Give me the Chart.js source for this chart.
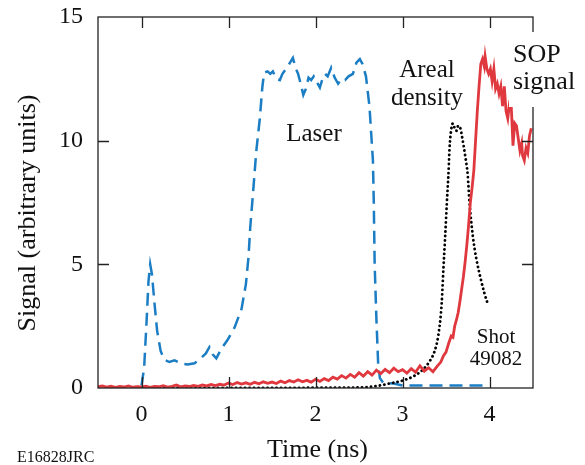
<!DOCTYPE html>
<html>
<head>
<meta charset="utf-8">
<script src="https://cdn.jsdelivr.net/npm/chart.js@4.4.1/dist/chart.umd.min.js"></script>
<style>
  html, body { margin: 0; padding: 0; background: #fff; }
</style>
</head>
<body>
<canvas id="chart" width="585" height="465"></canvas>
<script>
// ---------------------------------------------
// Data (time in ns, signal in arbitrary units)
// ---------------------------------------------
const laserT = [0.00, 0.03, 0.06, 0.08, 0.10, 0.12, 0.15, 0.18, 0.22, 0.26, 0.32, 0.38, 0.45, 0.53, 0.61,
  0.68, 0.74, 0.78, 0.82, 0.86, 0.92, 0.99, 1.07, 1.15, 1.20, 1.23, 1.25, 1.28, 1.32, 1.36, 1.39, 1.41,
  1.45, 1.48, 1.51, 1.55, 1.59, 1.62, 1.68, 1.74, 1.77, 1.80, 1.83, 1.86, 1.89, 1.92, 1.95, 1.98, 2.01,
  2.05, 2.08, 2.11, 2.14, 2.18, 2.22, 2.26, 2.30, 2.34, 2.38, 2.43, 2.47, 2.51, 2.54, 2.58, 2.62, 2.64,
  2.66, 2.67, 2.68, 2.70, 2.72, 2.74, 2.78, 2.90, 3.00, 3.50, 4.00];
const laserS = [0.1, 0.8, 2.8, 4.3, 5.0, 4.6, 3.4, 2.3, 1.5, 1.15, 1.05, 1.12, 1.0, 0.95, 1.0,
  1.2, 1.4, 1.65, 1.35, 1.2, 1.6, 1.95, 2.45, 3.2, 4.2, 5.3, 6.5, 7.8, 9.6, 10.9, 12.2, 12.75,
  12.8, 12.7, 12.8, 12.5, 12.45, 12.7, 13.0, 13.35, 12.95, 12.7, 12.3, 11.85, 12.1, 12.55, 12.45, 12.6, 12.4,
  12.15, 12.5, 12.7, 12.6, 12.95, 12.55, 12.3, 12.5, 12.45, 12.6, 12.7, 13.15, 13.3, 13.1, 12.6, 11.4, 10.3,
  9.2, 7.5, 5.0, 2.8, 1.0, 0.4, 0.2, 0.18, 0.1, 0.1, 0.1];

const arealT = [0.00, 2.50, 2.70, 2.85, 3.00, 3.12, 3.23, 3.31, 3.37, 3.41, 3.45, 3.47, 3.49, 3.51, 3.53,
  3.54, 3.56, 3.58, 3.60, 3.62, 3.64, 3.66, 3.69, 3.72, 3.75, 3.77, 3.81, 3.85, 3.90, 3.94, 3.98];
const arealS = [0.0, 0.02, 0.08, 0.18, 0.3, 0.46, 0.73, 1.07, 1.5, 2.1, 3.4, 4.8, 6.1, 7.5, 8.8,
  9.65, 10.45, 10.7, 10.5, 10.4, 10.6, 10.55, 10.05, 9.4, 8.6, 7.5, 6.1, 5.2, 4.4, 3.85, 3.4];

const sopT = [-0.50, -0.45, -0.40, -0.35, -0.30, -0.25, -0.20, -0.15, -0.10, -0.05,
  0.00, 0.05, 0.10, 0.15, 0.20, 0.25, 0.30, 0.35, 0.40, 0.45, 0.50, 0.55, 0.60, 0.65, 0.70, 0.75,
  0.80, 0.85, 0.90, 0.95, 1.00, 1.05, 1.10, 1.15, 1.20, 1.25, 1.30, 1.35, 1.40, 1.45, 1.50, 1.55,
  1.60, 1.65, 1.70, 1.75, 1.80, 1.85, 1.90, 1.95, 2.00, 2.05, 2.10, 2.15, 2.20, 2.25, 2.30, 2.35,
  2.40, 2.45, 2.50, 2.55, 2.60, 2.65, 2.70, 2.75, 2.80, 2.85, 2.90, 2.95, 3.00, 3.05, 3.10, 3.15,
  3.20, 3.25, 3.30, 3.35, 3.40, 3.44, 3.47, 3.50, 3.53, 3.56, 3.58, 3.60, 3.62, 3.64, 3.66, 3.68,
  3.70, 3.72, 3.74, 3.76, 3.78, 3.80, 3.82, 3.84, 3.86, 3.88, 3.90, 3.92, 3.94, 3.95, 3.97, 3.99,
  4.01, 4.03, 4.05, 4.07, 4.09, 4.11, 4.13, 4.15, 4.17, 4.19, 4.21, 4.23, 4.25, 4.27, 4.29, 4.31,
  4.33, 4.35, 4.37, 4.38, 4.40, 4.42, 4.44, 4.46, 4.48];
const sopS = [0.05, 0.08, 0.04, 0.07, 0.03, 0.06, 0.04, 0.08, 0.03, 0.05,
  0.04, 0.07, 0.03, 0.06, 0.05, 0.09, 0.04, 0.07, 0.12, 0.05, 0.08, 0.06, 0.10, 0.07, 0.12, 0.09,
  0.14, 0.10, 0.15, 0.12, 0.20, 0.14, 0.22, 0.16, 0.21, 0.15, 0.23, 0.17, 0.25, 0.19, 0.24, 0.18,
  0.28, 0.21, 0.30, 0.24, 0.33, 0.25, 0.31, 0.24, 0.35, 0.27, 0.38, 0.30, 0.44, 0.36, 0.50, 0.40,
  0.55, 0.44, 0.62, 0.48, 0.66, 0.52, 0.72, 0.58, 0.75, 0.62, 0.80, 0.66, 0.74, 0.60, 0.78, 0.64,
  0.90, 0.68, 0.82, 0.66, 0.88, 1.05, 1.30, 1.45, 1.80, 2.10, 2.05, 2.50, 2.75, 3.05, 3.50, 4.00,
  4.50, 5.10, 5.80, 6.60, 7.50, 8.10, 8.80, 10.00, 11.20, 12.20, 13.10, 13.30, 13.00, 13.40, 12.90, 12.70,
  12.90, 12.40, 12.90, 12.10, 12.30, 11.90, 12.20, 11.40, 12.20, 11.20, 10.90, 11.50, 11.40, 9.80, 10.70, 10.60,
  10.10, 9.60, 9.90, 9.40, 9.20, 9.70, 9.50, 10.20, 10.50];

const xTicks = [0, 1, 2, 3, 4];
const yTicks = [0, 5, 10, 15];

const toPoints = (xs, ys) => xs.map((x, i) => ({ x: x, y: ys[i] }));

const SERIF = '"Liberation Serif", "Times New Roman", serif';
const INK = '#111';

// ---------------------------------------------
// Frame, inward ticks, titles and labels
// ---------------------------------------------
const framePlugin = {
  id: 'frame',
  afterDraw(chart) {
    const { ctx, chartArea: a, scales } = chart;
    const tick = 11;
    ctx.save();
    ctx.strokeStyle = '#222';
    ctx.lineWidth = 1.3;
    ctx.strokeRect(a.left, a.top, a.right - a.left, a.bottom - a.top);

    ctx.beginPath();
    xTicks.forEach(v => {
      const px = Math.round(scales.x.getPixelForValue(v)) + 0.5;
      ctx.moveTo(px, a.bottom); ctx.lineTo(px, a.bottom - tick);
      ctx.moveTo(px, a.top); ctx.lineTo(px, a.top + tick);
    });
    yTicks.slice(1, -1).forEach(v => {
      const py = Math.round(scales.y.getPixelForValue(v)) + 0.5;
      ctx.moveTo(a.left, py); ctx.lineTo(a.left + tick, py);
      ctx.moveTo(a.right, py); ctx.lineTo(a.right - tick, py);
    });
    ctx.stroke();

    // axis titles
    ctx.fillStyle = INK;
    ctx.textAlign = 'center';
    ctx.textBaseline = 'middle';
    ctx.font = '26px ' + SERIF;
    ctx.fillText('Time (ns)', (a.left + a.right) / 2 + 2, 450);
    ctx.save();
    ctx.translate(28, 213);
    ctx.rotate(-Math.PI / 2);
    ctx.fillText('Signal (arbitrary units)', 0, 0);
    ctx.restore();

    // trace labels
    ctx.font = '25px ' + SERIF;
    ctx.textBaseline = 'alphabetic';
    ctx.fillText('Laser', 314, 141);
    ctx.fillText('Areal', 427, 77);
    ctx.fillText('density', 427, 105);

    ctx.fillStyle = '#fff';
    ctx.fillRect(509, 32, 76, 75);
    ctx.fillStyle = INK;
    ctx.textAlign = 'left';
    ctx.font = '26px ' + SERIF;
    ctx.fillText('SOP', 513, 62);
    ctx.fillText('signal', 513, 89);

    ctx.textAlign = 'center';
    ctx.font = '21px ' + SERIF;
    ctx.fillText('Shot', 496, 343);
    ctx.fillText('49082', 496, 365);

    ctx.textAlign = 'left';
    ctx.font = '16px ' + SERIF;
    ctx.fillText('E16828JRC', 17, 462);
    ctx.restore();
  }
};

new Chart(document.getElementById('chart'), {
  type: 'line',
  data: {
    datasets: [
      {
        label: 'SOP signal',
        data: toPoints(sopT, sopS),
        borderColor: '#e0383f',
        borderWidth: 2.8,
        pointRadius: 0,
        tension: 0,
        order: 1
      },
      {
        label: 'Areal density',
        data: toPoints(arealT, arealS),
        borderColor: '#000',
        borderWidth: 2.8,
        borderDash: [0.1, 4.4],
        borderCapStyle: 'round',
        pointRadius: 0,
        cubicInterpolationMode: 'monotone',
        order: 2
      },
      {
        label: 'Laser',
        data: toPoints(laserT, laserS),
        borderColor: '#1b7dc3',
        borderWidth: 2.5,
        borderDash: [13, 7],
        pointRadius: 0,
        tension: 0,
        order: 3
      }
    ]
  },
  options: {
    responsive: false,
    animation: false,
    devicePixelRatio: 1,
    layout: { padding: { top: 17, right: 52, bottom: 0, left: 0 } },
    plugins: {
      legend: { display: false },
      tooltip: { enabled: false }
    },
    scales: {
      x: {
        type: 'linear',
        min: -0.5,
        max: 4.5,
        grid: { display: false, drawTicks: false },
        border: { display: false },
        afterBuildTicks: s => { s.ticks = xTicks.map(v => ({ value: v })); },
        afterFit: s => { s.height = 77; s.paddingLeft = 0; s.paddingRight = 0; },
        ticks: {
          padding: 12,
          color: INK,
          font: { family: SERIF, size: 24 }
        }
      },
      y: {
        min: 0,
        max: 15,
        grid: { display: false, drawTicks: false },
        border: { display: false },
        afterBuildTicks: s => { s.ticks = yTicks.map(v => ({ value: v })); },
        afterFit: s => { s.width = 98; s.paddingTop = 0; s.paddingBottom = 0; },
        ticks: {
          padding: 15,
          color: INK,
          font: { family: SERIF, size: 24 }
        }
      }
    }
  },
  plugins: [framePlugin]
});
</script>
</body>
</html>
